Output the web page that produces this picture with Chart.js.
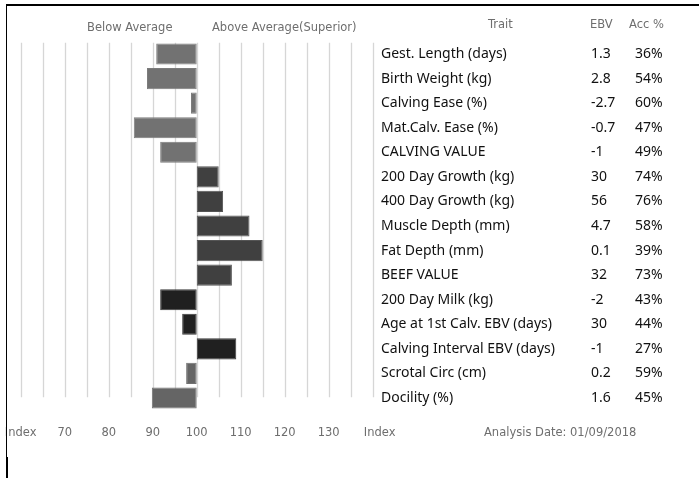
<!DOCTYPE html>
<html>
<head>
<meta charset="utf-8">
<script src="https://cdn.jsdelivr.net/npm/chart.js@4"></script>
<style>
  html, body { margin: 0; padding: 0; background: #fff; }
  #wrap { position: relative; width: 699px; height: 478px; overflow: hidden; }
  #topLine { position: absolute; left: 6px; top: 4px; width: 693px; height: 2px; background: #000; }
  #leftLine { position: absolute; left: 6px; top: 4px; width: 1px; height: 474px; background: #000; }
  #leftFoot { position: absolute; left: 6px; top: 457px; width: 2px; height: 21px; background: #000; }
  canvas { position: absolute; left: 0; top: 0; }
</style>
</head>
<body>
<div id="wrap">
  <canvas id="chart" width="699" height="478"></canvas>
  <div id="topLine"></div>
  <div id="leftLine"></div>
  <div id="leftFoot"></div>
</div>
<script>
// ===== Data =====
const traits = [
  'Gest. Length (days)', 'Birth Weight (kg)', 'Calving Ease (%)', 'Mat.Calv. Ease (%)', 'CALVING VALUE',
  '200 Day Growth (kg)', '400 Day Growth (kg)', 'Muscle Depth (mm)', 'Fat Depth (mm)', 'BEEF VALUE',
  '200 Day Milk (kg)', 'Age at 1st Calv. EBV (days)', 'Calving Interval EBV (days)', 'Scrotal Circ (cm)', 'Docility (%)'
];
const ebv = ['1.3', '2.8', '-2.7', '-0.7', '-1', '30', '56', '4.7', '0.1', '32', '-2', '30', '-1', '0.2', '1.6'];
const acc = ['36%', '54%', '60%', '47%', '49%', '74%', '76%', '58%', '39%', '73%', '43%', '44%', '27%', '59%', '45%'];
const indexValues = [90.8, 88.7, 98.7, 85.7, 91.7, 105, 106, 112, 115, 108, 91.7, 96.7, 109, 97.6, 89.8];
const groupColors = [
  '#727272', '#727272', '#727272', '#727272', '#727272',
  '#404040', '#404040', '#404040', '#404040', '#404040',
  '#202020', '#202020', '#202020',
  '#656565', '#656565'
];
const groupBorders = [
  '#7c7c7c', '#7c7c7c', '#7c7c7c', '#7c7c7c', '#7c7c7c',
  '#555555', '#555555', '#555555', '#555555', '#555555',
  '#3a3a3a', '#3a3a3a', '#3a3a3a',
  '#717171', '#717171'
];
const xTicks = [60, 70, 80, 90, 100, 110, 120, 130, 140];
const xTickLabels = ['Index', '70', '80', '90', '100', '110', '120', '130', 'Index'];
const analysisDate = 'Analysis Date: 01/09/2018';

const headerFont = '11.5px "DejaVu Sans"';
const rowFont = '14px "Noto Sans"';

// ===== Plugins =====
const gridPlugin = {
  id: 'vgrid',
  beforeDatasetsDraw(c) {
    const ctx = c.ctx, x = c.scales.x, a = c.chartArea;
    ctx.save();
    ctx.strokeStyle = '#d6d6d6';
    ctx.lineWidth = 1.3;
    for (let v = 60; v <= 140; v += 5) {
      const px = Math.round(x.getPixelForValue(v)) + 0.5;
      ctx.beginPath();
      ctx.moveTo(px, a.top + 1);
      ctx.lineTo(px, a.bottom - 13);
      ctx.stroke();
    }
    ctx.restore();
  }
};

const tablePlugin = {
  id: 'table',
  afterDraw(c) {
    const ctx = c.ctx, x = c.scales.x, y = c.scales.y;
    ctx.save();
    ctx.font = headerFont;
    ctx.fillStyle = '#6e6e6e';
    ctx.textBaseline = 'middle';
    // x tick labels
    ctx.textAlign = 'center';
    xTicks.forEach((v, i) => {
      let px = x.getPixelForValue(v);
      if (i === xTicks.length - 1) px += 7;
      ctx.fillText(xTickLabels[i], px, 433);
    });
    // headers
    ctx.textAlign = 'left';
    ctx.fillText('Below Average', 87, 28);
    ctx.fillText('Above Average(Superior)', 212, 28);
    ctx.fillText('Trait', 488, 25);
    ctx.fillText('EBV', 590, 25);
    ctx.fillText('Acc %', 629, 25);
    ctx.fillText(analysisDate, 484, 433);
    // rows
    ctx.font = rowFont;
    ctx.fillStyle = '#111111';
    traits.forEach((t, i) => {
      const py = y.getPixelForValue(i);
      ctx.fillText(t, 381, py);
      ctx.fillText(ebv[i], 591, py);
      ctx.fillText(acc[i], 635, py);
    });
    ctx.restore();
  }
};

// ===== Chart =====
new Chart(document.getElementById('chart').getContext('2d'), {
  type: 'bar',
  data: {
    labels: traits,
    datasets: [{
      data: indexValues.map(v => [100, v]),
      backgroundColor: groupColors,
      borderColor: groupBorders,
      borderWidth: 1,
      borderSkipped: false,
      barPercentage: 0.86,
      categoryPercentage: 1
    }]
  },
  options: {
    indexAxis: 'y',
    responsive: false,
    animation: false,
    layout: { padding: { left: 20.7, right: 326.3, top: 41.7, bottom: 67.7 } },
    plugins: { legend: { display: false }, tooltip: { enabled: false } },
    scales: {
      x: { type: 'linear', min: 60, max: 140, display: false },
      y: { display: false }
    }
  },
  plugins: [gridPlugin, tablePlugin]
});
</script>
</body>
</html>
